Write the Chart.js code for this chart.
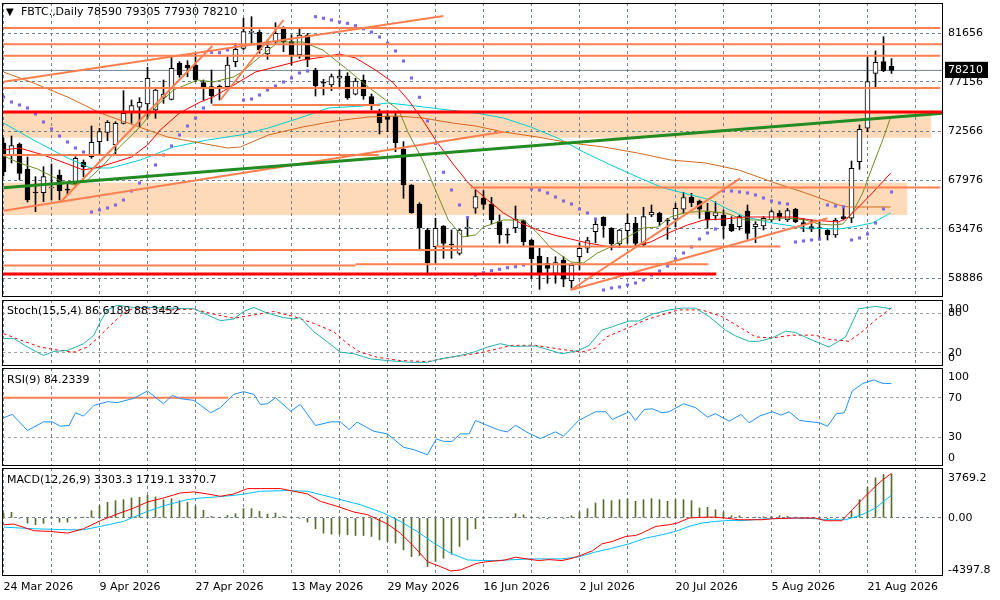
<!DOCTYPE html>
<html>
<head>
<meta charset="utf-8">
<title>FBTC., Daily</title>
<script src="https://cdn.jsdelivr.net/npm/chart.js@4.4.1/dist/chart.umd.min.js"></script>
<style>
  html,body{margin:0;padding:0;background:#fff}
  #page{position:relative;width:1000px;height:600px;overflow:hidden;background:#fff}
  canvas{position:absolute;left:0}
  .lbl{position:absolute;left:7px;font:11px "DejaVu Sans",sans-serif;color:#000;white-space:nowrap;line-height:13px}
</style>
</head>
<body>
<div id="page">
  <canvas id="mainChart" width="1000" height="298" style="top:0;width:1000px;height:298px"></canvas>
  <canvas id="stochChart" width="1000" height="70" style="top:298px;width:1000px;height:70px"></canvas>
  <canvas id="rsiChart" width="1000" height="102" style="top:366px;width:1000px;height:102px"></canvas>
  <canvas id="macdChart" width="1000" height="134" style="top:466px;width:1000px;height:134px"></canvas>
  <div class="lbl" style="top:5px;left:6px;font-size:10px">▼</div>
  <div class="lbl" style="top:5px;left:21px">FBTC.,Daily 78590 79305 77930 78210</div>
  <div class="lbl" style="top:304px">Stoch(15,5,4) 86.6189 88.3452</div>
  <div class="lbl" style="top:373px">RSI(9) 84.2339</div>
  <div class="lbl" style="top:473px">MACD(12,26,9) 3303.3 1719.1 3370.7</div>
</div>
<script>
"use strict";
// tick labels (one every 12 bars)
const dateTicks=['24 Mar 2026','9 Apr 2026','27 Apr 2026','13 May 2026','29 May 2026','16 Jun 2026','2 Jul 2026','20 Jul 2026','5 Aug 2026','21 Aug 2026'];
const priceTicks=[81656,77156,72566,67976,63476,58886];

// daily candles
const opens=[71465,70350,71372,69022,66913,66848,67285,68493,67100,67656,
69672,70193,71586,72459,71280,73295,74373,74782,75088,74531,
75646,75525,78869,78712,78712,77067,76696,76760,76696,79018,
80263,81749,81749,79733,80876,82028,80876,79640,81499,78247,
77067,76854,77476,77690,75990,77318,75767,74224,73974,73909,
70908,67564,65798,63383,61832,63755,62082,61218,63541,65399,
66328,65798,64154,62918,63596,64247,62454,60968,60289,59360,
60596,58673,60903,61683,63225,64563,63541,62082,63318,64005,
61990,64777,64934,64247,64377,65306,66420,66077,65102,64684,
64777,63912,63690,65148,63690,63755,64312,64934,64312,65306,
64061,63690,63541,63383,62918,64619,64470,69728,72831,77940,
79018,78590];
const highs=[71930,72116,71465,70165,68335,69264,69514,68957,67749,70193,
69886,73045,72831,73537,73444,76324,75460,75674,78498,76640,
77318,79483,79018,79111,79798,77318,78247,76854,79483,80727,
83050,83199,81963,81034,82641,82270,81499,82028,81656,78405,
77383,77875,78247,77996,77476,77783,76018,74596,74466,74224,
71586,67600,65919,63541,64470,63800,63383,63447,64619,67099,
67034,66420,64777,63448,65612,64312,62519,61683,60847,60903,
60903,60289,62203,62704,64470,64619,63600,63448,64869,64563,
65492,65705,65027,64470,65863,66885,66793,66170,65863,66012,
65240,64619,64777,65705,64154,64619,65240,65176,65399,65399,
64470,64312,64154,63420,64470,65548,69793,73138,79483,80012,
81341,79305];
const lows=[68400,69607,68028,65984,65083,66012,66170,66170,66635,67564,
68335,70044,70350,71679,70443,73230,73295,72980,73760,73760,
75153,75460,77569,77624,77160,75460,75153,75460,76547,78553,
80105,80727,79798,79241,80727,79947,78712,79334,78553,75832,
75925,76324,76547,75525,75925,75525,74531,72301,72515,70657,
66328,64935,61460,59203,60289,60753,60753,61060,62760,64934,
65306,63940,62147,62147,63132,61832,58896,57874,58430,58430,
58115,57967,59667,61274,62203,62704,61525,61776,62147,61990,
61832,64619,63755,62519,63690,64934,65548,64470,63541,64312,
62605,63225,63383,62519,62203,63383,64154,64247,64154,64061,
63225,63225,62454,62454,62704,64312,64061,69022,72515,76640,
78089,77930];
const closes=[68771,71214,68650,66170,66820,68335,67377,67034,67090,70044,
69264,71530,72515,73388,73295,74224,74930,75246,77476,76389,
76018,78405,77783,78433,77318,76640,75832,76547,78712,80170,
81805,81805,80105,80356,81656,80876,79640,81499,79176,76760,
77030,77624,77690,75674,77225,75832,75088,73351,73667,71493,
67564,64990,63596,60345,63541,62147,61990,63383,63560,66477,
65770,64312,62918,62900,64405,62296,60689,59360,59824,60345,
58803,60132,61683,62390,63912,63782,62082,63383,64005,62147,
64619,65027,64154,64230,65399,66384,65919,65306,64312,64990,
63755,63318,64619,63076,63940,64470,65083,64563,65176,64154,
63848,63448,63520,62918,64312,64432,69115,72738,77160,78962,
78182,78210];

// parabolic SAR, one dot per bar
const sar=[75739,75274,74995,74717,74159,73416,72766,72116,71558,71001,
70629,65055,65241,65427,65705,66170,67006,67749,68400,69422,
70350,71187,72208,73045,73788,74717,79891,79854,80105,80412,
75460,75553,75925,76389,76761,77132,77504,77968,78154,83199,
83050,82892,82706,82585,82362,82084,81777,81313,80727,80012,
79083,77504,75711,73509,71437,68743,67099,65705,64526,59203,
59417,59602,59732,59881,59974,60132,67192,67099,66820,66449,
66077,65798,65334,64962,64405,57809,57995,58088,58274,58459,
58738,59203,59574,60039,60689,61246,61804,62547,63104,63476,
67006,67006,66913,66820,66635,66356,66077,65891,65798,62268,
62361,62454,62547,65705,65613,65520,62454,62640,63011,64033,
65334,66913];

// moving averages as [bar, price]
const maRed=[[0,70815],[2,71001],[5,70350],[10,68957],[12,69236],[16,70165],[18,71280],[19.6,72673],[22,74252],[24.6,75274],[26.2,75739],[28.8,76854],[31.5,78061],[34,78526],[37.4,79176],[40,79455],[42,79733],[44,79362],[46.5,78247],[48.6,77132],[50.6,75460],[52.4,73602],[54,71744],[56.1,69607],[58.1,67749],[60.5,66170],[62.5,64962],[64.6,64033],[66.8,63383],[68.8,62918],[70.9,62547],[73,62175],[75.9,61804],[78.4,61804],[80.9,62268],[83.4,63197],[85.5,63848],[87.5,64312],[90,64405],[92.8,64590],[96,64590],[98.6,64590],[101,64312],[104.4,64126],[105.6,64590],[106.9,65520],[108.6,66820],[110.9,68678]];
const maOlive=[[0,70257],[2,69607],[4.25,69050],[6.25,68306],[7.3,67870],[8.8,67564],[10.5,68028],[12.5,69422],[14.5,71094],[17.1,72980],[19.25,74995],[21.25,76389],[24.25,77318],[26.25,77132],[28.75,77597],[29.6,77968],[33.1,80105],[34.4,80848],[37.4,80848],[39.9,80105],[42.75,78433],[45.6,76668],[47.75,75460],[49.4,74531],[50.6,72394],[52.4,69886],[54,67099],[55.6,64312],[57.4,62733],[59,62918],[60,63661],[62.5,64312],[65,64312],[66.75,63104],[68.4,61711],[70.9,60410],[72.5,60317],[74.25,61246],[75.9,61804],[78,62733],[80,63569],[81.75,63661],[83.4,64591],[85,64962],[87.5,65148],[90.25,64962],[92.75,64312],[95.25,64312],[97.75,64498],[100.25,64312],[101.9,63940],[103.6,63848],[104.9,63940],[106.1,64962],[107.4,66820],[108.6,69236],[109.9,71744],[110.9,73881]];
const maOrange=[[0,78061],[3.75,77039],[8,75739],[12.1,74252],[16.25,73138],[20.5,72023],[24.6,71465],[28,71001],[29.6,71094],[33.1,72208],[37.4,72952],[41.5,73509],[45.6,73881],[49,73974],[52.4,73788],[56.1,73323],[59,73045],[62.5,72487],[66.75,72023],[70.9,71465],[75,71094],[79.25,70536],[83.4,69886],[87.75,69607],[91.9,68957],[96.1,67842],[100.25,66820],[104.4,65706],[105.6,65520],[110.9,65520]];
const maCyan=[[0,73323],[3.75,71744],[8,70072],[10.9,69143],[13.4,69143],[17.1,69886],[21.25,71094],[25.5,71744],[29.6,72208],[33.1,72859],[37.4,73881],[40.6,74717],[44.9,74902],[48.1,75181],[51.5,74902],[55.6,74531],[59,74252],[62.5,73788],[65.9,72952],[69.25,71930],[72.5,70629],[75.9,69422],[79.25,68307],[82.5,67285],[85,66820],[88.4,66170],[90.25,65427],[92.75,64590],[96.1,64033],[100.25,63569],[104.4,63476],[106.1,63662],[108.6,64033],[110.9,64962]];

// drawn objects: [price, fromBar, toBar] and [bar1, price1, bar2, price2]
const hLines=[[82149,-1,117.1],[80635,-1,118],[79576,-1,117.1],[76575,-1,117.1],[74995,26.1,47.1],[70350,-1,46.9],[67331,58.4,117.1],[61524,-1,57.1],[61850,54,97.1],[60085,-1,44],[60197,44,88.1]];
const redLines=[[74345,-1,118],[59295,-1,89.1]];
const trendLines=[[0,65176,62.5,72515],[0,77160,55,83264],[7.1,65956,26.1,80477],[27.1,75460,35,82892],[70.9,57809,92.1,68186],[70.9,57809,103,64470]];
const greenLine=[0,67313,117.5,74224];
const zones=[[74345,71958,-1,116],[67777,64777,-1,113]]; // [top, bottom, fromBar, toBar]

// Stoch(15,5,4)
const stochK=[[0,41.5],[1.3,41.5],[3,28.7],[5,15.9],[6.3,22],[8,23.6],[10,33.8],[11.3,46.7],[12.1,67],[13,85],[14.2,92],[16.3,88.7],[18.4,88.7],[20.5,87.7],[23.8,86.7],[25.5,77.4],[27.1,68.7],[28.8,71.3],[30,82.6],[31.3,88.7],[33,80],[35,73.3],[36.3,71.3],[37.1,73.3],[38.8,51.8],[40.5,36.4],[42.1,21],[43.8,18.5],[45.9,10.8],[48,8.2],[50.9,5.6],[53,5.6],[54.6,10.8],[57.1,15.9],[58.8,21],[60.5,28.7],[62.1,33.8],[63.6,29.7],[66.5,30.3],[67.75,26],[69.8,18.5],[71.9,23.6],[73.2,31.3],[74.8,54.4],[76.1,59.5],[78.2,68.2],[79.4,68.2],[81.1,78.5],[83.2,85],[84.8,87.7],[86.5,87.7],[88.2,74.9],[90.25,54.4],[91.5,45.6],[93.2,37.4],[94.4,37.4],[96.1,42.6],[97.75,52.8],[99,50.8],[101.1,39],[103.2,28.7],[105.25,44.1],[106.9,86.7],[109,90.3],[111,86.6]];
const stochD=[[0,49],[2.2,39],[4.6,28.7],[6.3,25],[8.8,21],[10.5,28.7],[11.7,41.5],[13.4,62],[15,80],[16.3,87.7],[20.5,85],[23.8,86],[26.3,78.5],[28.8,72.3],[31.3,77.4],[33.8,82.6],[36.3,74.9],[38.8,64.6],[41.3,51.8],[43,33.8],[44.6,21],[46.7,13.3],[49.6,8.2],[53,6.7],[55.9,13.3],[58,17],[59.6,20],[62.1,27.2],[63.6,31.3],[66.5,31.3],[69.8,25.1],[72.3,21],[74,27.2],[75.4,44.1],[78.2,58.5],[80.2,69.7],[82.3,77.4],[84.4,85],[87.3,85],[89.8,74.9],[92.3,56.9],[94,44.1],[96.1,42.6],[98.6,46.7],[101.5,46.7],[103.2,40.5],[105.7,37.4],[107.3,51.8],[109,69.7],[111,88.3]];
const stochLevels=[100,80,20,0];

// RSI(9)
const rsi=[[0,49.7],[1.1,53.1],[3,36.8],[5,45.6],[6.1,45.6],[7.1,41.2],[8.2,41.9],[9,54.8],[10,51.4],[11.3,62.2],[13,66],[14.2,65],[16.3,69.4],[18,76.8],[20,63.9],[21.1,72.4],[22.1,69],[23.8,67.3],[25.9,54.8],[27.1,59.9],[28.8,73.4],[30,76.1],[31.3,73.4],[32.1,63.2],[33,63.9],[34,70],[35.9,56.5],[37.1,63.2],[39,41.9],[40.9,45.6],[42.1,45.6],[43.2,37.8],[44.2,45.3],[46.3,36.1],[48,33.4],[50,19.9],[51.3,17.5],[53,12.4],[54.1,28.3],[55,25.9],[56.1,25.9],[57.1,33.4],[58.2,33.4],[59,47],[60.5,41.9],[62.1,36.8],[63,35.5],[64,42.2],[65.6,34.4],[67.1,28.7],[69,35.5],[70,31.1],[71.9,47],[74,55.8],[75.3,55.8],[76.1,48],[78.2,55.8],[79,47],[80.1,58.2],[81.1,58.8],[82.3,54.8],[83.2,55.8],[85,63.9],[86.5,59.9],[88,50.4],[89,53.8],[90.7,46.3],[92.2,53.1],[93.2,44.6],[94.5,51.4],[96.1,55.8],[97.2,52.4],[98.2,55.8],[99.5,47],[102,44.6],[103,41.2],[104.1,53.8],[105.1,54.8],[106.1,76.8],[107.4,84.3],[108.8,88],[109.8,84.6],[111,84.2]];
const rsiLevels=[100,70,30,0];
const rsiMark=[[-1,70],[28.1,70]];

// MACD(12,26,9)
const macdHist=[364,414,-16,-396,-523,-421,-16,-320,-320,-16,
60,541,921,1174,1300,1376,1503,1554,1706,1579,
1376,1452,1300,1174,900,566,110,34,187,313,
693,693,490,288,364,110,0,-16,-320,-826,
-1156,-1232,-1232,-1282,-1333,-1333,-1409,-1662,-1789,-1915,
-2422,-2928,-2852,-3688,-3308,-3055,-2751,-2168,-1662,-826,
-16,0,0,50,313,237,0,-16,-67,0,
-16,150,440,693,1123,1376,1300,1376,1427,1250,
1376,1452,1376,1250,1376,1376,1300,744,794,617,
440,161,161,34,60,80,110,161,110,60,
20,-16,-30,-60,-40,-16,490,1376,2313,3022,
3275,3303];
const macdRed=[[0,-523],[1.3,-472],[3.8,-978],[5.9,-1029],[8,-1156],[10,-826],[12.1,-219],[14.2,288],[16.3,743],[18,1199],[20,1503],[22.1,1883],[23.8,1959],[25.5,1807],[27.1,1630],[28.8,1807],[30.5,2212],[32.1,2212],[34.6,2212],[36.3,2009],[38,1807],[39.6,1250],[41.7,870],[43.8,440],[45.5,237],[48,-472],[49.6,-1156],[51.3,-2168],[53,-3308],[54.6,-3688],[55.9,-4017],[57.1,-3941],[59.2,-3435],[60.5,-3308],[62.1,-3232],[62.75,-3181],[64,-2979],[65.7,-3131],[66.9,-3232],[68.2,-3156],[69.8,-3232],[71.1,-3055],[72.3,-2801],[73.6,-2498],[74.8,-1966],[76.1,-1789],[77.75,-1409],[79,-1333],[79.8,-1156],[81.5,-649],[83.2,-523],[84.2,-396],[85.7,-16],[86.9,34],[88.6,60],[90.25,-16],[91.9,-143],[94.8,-143],[96.1,-67],[99,-16],[101.5,-16],[102.75,-219],[104.8,-219],[106.1,617],[107.3,1376],[109,2389],[109.8,2820],[111,3371]];
const macdBlue=[[0,-700],[3.8,-826],[8,-902],[10,-902],[12.1,-649],[15,-269],[18,490],[20.5,997],[23,1376],[24.6,1503],[27.1,1604],[29.6,1756],[32.1,2009],[35.5,2060],[38,2009],[41.3,1503],[44.6,997],[47.5,364],[49.6,-269],[51.7,-1029],[53.8,-1915],[55.9,-2675],[58,-3182],[60,-3232],[61.5,-3232],[65.7,-3105],[69.8,-3105],[71.9,-2953],[73.9,-2599],[76.1,-2295],[78.2,-1966],[80.25,-1535],[82.3,-1282],[84,-1029],[85.7,-649],[87.3,-396],[89,-269],[90.7,-194],[92.75,-194],[94.8,-92],[99,-16],[101.5,-67],[103.2,-143],[105.25,-143],[107.3,237],[109,743],[111,1719]];
const macdLevels=[3769.2,0,-4397.8];
const macdLabels=['3769.2','0.00','-4397.8'];

// ---- layout / styles ----
const X_MIN=-0.1875, X_MAX=117.4375; // 8px per bar
const AXIS_W=57;
const GRID='#708090';
const CORAL='#FF7F50';
const bid=closes[closes.length-1];

Chart.defaults.font.family='"DejaVu Sans", sans-serif';
Chart.defaults.font.size=11;
Chart.defaults.color='#000';
Chart.defaults.animation=false;
Chart.defaults.events=[];
Chart.defaults.plugins.legend.display=false;
Chart.defaults.plugins.tooltip.enabled=false;

const framePlugin={
  id:'frame',
  afterDraw(chart){
    const a=chart.chartArea, ctx=chart.ctx;
    ctx.save();
    ctx.strokeStyle='#000';ctx.lineWidth=1;
    ctx.strokeRect(Math.round(a.left)+0.5,Math.round(a.top)+0.5,Math.round(a.right-a.left)-1,Math.round(a.bottom-a.top)-1);
    ctx.restore();
  }
};

// no label overhang padding: panes must sit exactly where the terminal puts them
function noPad(s){s.paddingTop=0;s.paddingBottom=0;s.paddingLeft=0;s.paddingRight=0;}

const gridBars=[];
for(let b=0;b<=X_MAX;b+=6)gridBars.push(b);

function xAxis(showLabels){
  return {
    type:'linear',min:X_MIN,max:X_MAX,offset:false,
    grid:{offset:false,color:GRID,lineWidth:1,drawTicks:false},
    border:{display:false,dash:[3,3]},
    afterBuildTicks:s=>{s.ticks=gridBars.map(v=>({value:v}));},
    afterFit:s=>{noPad(s);if(showLabels)s.height=24;},
    ticks:{display:showLabels,autoSkip:false,maxRotation:0,minRotation:0,align:'start',padding:5,
      callback:v=>(v%12===0?dateTicks[v/12]:'')}
  };
}

// y axis for indicator panes; edge labels are nudged inside the pane like the terminal does
function levelAxis(min,max,levels,labels,shiftPx,gridAt,gridColor,paneH){
  return {
    position:'right',min,max,
    grid:{drawTicks:false,lineWidth:1,color:c=>(c.tick&&gridAt.includes(c.tick.level)?gridColor:'transparent')},
    border:{display:false,dash:[3,3]},
    afterBuildTicks:s=>{
      const u=(max-min)/paneH;
      s.ticks=levels.map((lv,i)=>({value:lv-shiftPx[i]*u,level:lv}));
    },
    afterFit:s=>{noPad(s);s.width=AXIS_W;},
    ticks:{autoSkip:false,padding:5,callback:(v,i)=>labels[i]}
  };
}

function line(data,color,width,order,dash){
  return {type:'line',data,borderColor:color,borderWidth:width,pointRadius:0,fill:false,tension:0,order,borderDash:dash||[]};
}

// ---- main price pane ----
const mainDatasets=[];
zones.forEach(z=>{
  mainDatasets.push({type:'line',data:[[z[2],z[0]],[z[3],z[0]]],borderWidth:0,pointRadius:0,
    fill:{value:z[1]},backgroundColor:'#FFDAB9',order:30});
});
mainDatasets.push(line([[-1,bid],[118,bid]],GRID,1,25));
mainDatasets.push({type:'bar',label:'wick',data:opens.map((o,i)=>({x:i,y:[lows[i],highs[i]]})),
  backgroundColor:'#000',borderWidth:0,barThickness:1,grouped:false,order:20});
mainDatasets.push({type:'bar',label:'body',data:opens.map((o,i)=>({x:i,y:[Math.min(o,closes[i]),Math.max(o,closes[i])]})),
  backgroundColor:opens.map((o,i)=>(closes[i]>=o?'#fff':'#000')),borderColor:'#000',borderWidth:1,
  borderSkipped:false,minBarLength:1,barThickness:5,grouped:false,order:19});
mainDatasets.push(line(maOrange,'#D2691E',1,12));
mainDatasets.push(line(maCyan,'#00CED1',1,12));
mainDatasets.push(line(maRed,'#FF0000',1,11));
mainDatasets.push(line(maOlive,'#6B8E23',1,11));
mainDatasets.push({type:'line',data:sar.map((v,i)=>[i,v]),showLine:false,pointStyle:'rect',pointRadius:2.2,
  pointBackgroundColor:'#7B68EE',pointBorderWidth:0,order:9});
hLines.forEach(h=>mainDatasets.push(line([[h[1],h[0]],[h[2],h[0]]],CORAL,2,5)));
trendLines.forEach(t=>mainDatasets.push(line([[t[0],t[1]],[t[2],t[3]]],CORAL,2,5)));
redLines.forEach(h=>mainDatasets.push(line([[h[1],h[0]],[h[2],h[0]]],'#FF0000',3,4)));
mainDatasets.push(line([[greenLine[0],greenLine[1]],[greenLine[2],greenLine[3]]],'#228B22',3,4));

const mainTicks=priceTicks.concat([bid]);
new Chart(document.getElementById('mainChart'),{
  type:'bar',
  data:{datasets:mainDatasets},
  options:{
    responsive:false,
    layout:{autoPadding:false,padding:{left:2,right:0,top:3,bottom:1}},
    plugins:{filler:{drawTime:'beforeDraw'}},
    scales:{
      x:xAxis(false),
      y:{
        position:'right',min:57158,max:84471,
        grid:{drawTicks:false,lineWidth:1,color:c=>(c.tick&&c.tick.value===bid?'transparent':GRID)},
        border:{display:false,dash:[3,3]},
        afterBuildTicks:s=>{s.ticks=mainTicks.map(v=>({value:v}));},
        afterFit:s=>{noPad(s);s.width=AXIS_W;},
        ticks:{autoSkip:false,padding:5,callback:v=>String(v),
          color:c=>(c.tick&&c.tick.value===bid?'#fff':'#000'),
          showLabelBackdrop:c=>!!(c.tick&&c.tick.value===bid),
          backdropColor:'#000',backdropPadding:{top:2,bottom:1,left:3,right:5}}
      }
    }
  },
  plugins:[framePlugin]
});

// ---- Stoch pane ----
new Chart(document.getElementById('stochChart'),{
  type:'line',
  data:{datasets:[
    line(stochD,'#FF0000',1,2,[3,3]),
    line(stochK,'#20B2AA',1,1)
  ]},
  options:{
    responsive:false,
    layout:{autoPadding:false,padding:{left:2,right:0,top:2,bottom:2}},
    scales:{x:xAxis(false),y:levelAxis(0,100,stochLevels,stochLevels.map(String),[9,0,0,-8],[80,20],'#A0A0A0',66)}
  },
  plugins:[framePlugin]
});

// ---- RSI pane ----
new Chart(document.getElementById('rsiChart'),{
  type:'line',
  data:{datasets:[
    line(rsiMark,CORAL,2,3),
    line(rsi,'#1E90FF',1,1)
  ]},
  options:{
    responsive:false,
    layout:{autoPadding:false,padding:{left:2,right:0,top:2,bottom:2}},
    scales:{x:xAxis(false),y:levelAxis(1,100,rsiLevels,rsiLevels.map(String),[9,0,0,-9],[70,30],'#A0A0A0',98)}
  },
  plugins:[framePlugin]
});

// ---- MACD pane ----
new Chart(document.getElementById('macdChart'),{
  type:'bar',
  data:{datasets:[
    {type:'bar',data:macdHist.map((v,i)=>({x:i,y:v})),backgroundColor:'#556B2F',borderWidth:0,barThickness:1,grouped:false,order:5},
    line(macdBlue,'#00BFFF',1,2),
    line(macdRed,'#FF0000',1,1)
  ]},
  options:{
    responsive:false,
    layout:{autoPadding:false,padding:{left:2,right:0,top:2,bottom:0}},
    scales:{x:xAxis(true),y:levelAxis(-4397.8,3769.2,macdLevels,macdLabels,[10,0,-6],[0],GRID,108)}
  },
  plugins:[framePlugin]
});
</script>
</body>
</html>
